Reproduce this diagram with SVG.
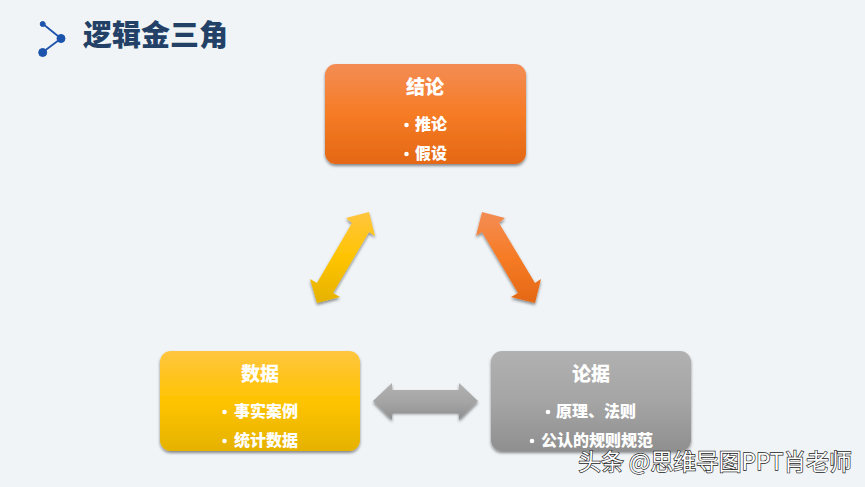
<svg xmlns="http://www.w3.org/2000/svg" width="865" height="487" viewBox="0 0 865 487">
<style>
text{font-family:"Noto Sans CJK SC","Liberation Sans",sans-serif;text-anchor:middle;fill:#fff}
.h{font-size:19px;font-weight:900}
.b{font-size:16px;font-weight:900}
.box{filter:url(#sh)}
</style>
<defs>
<filter id="sh" x="-10%" y="-10%" width="120%" height="120%"><feDropShadow dx="0" dy="2" stdDeviation="1.800" flood-color="#000" flood-opacity=".45"/></filter>
<linearGradient id="o" x1="0" y1="0" x2="0" y2="1"><stop offset="0" stop-color="#f38d55"/><stop offset=".5" stop-color="#f67b25"/><stop offset="1" stop-color="#e46815"/></linearGradient>
<linearGradient id="y" x1="0" y1="0" x2="0" y2="1"><stop offset="0" stop-color="#ffc53f"/><stop offset=".5" stop-color="#ffc400"/><stop offset="1" stop-color="#e5b200"/></linearGradient>
<linearGradient id="g" x1="0" y1="0" x2="0" y2="1"><stop offset="0" stop-color="#b1b1b1"/><stop offset=".5" stop-color="#a5a5a5"/><stop offset="1" stop-color="#8f8f8f"/></linearGradient>
</defs>
<rect width="865" height="487" fill="#f0f4f7"/>
<g id="icon" fill="#1c53ac" stroke="#1c53ac">
<path d="M43 24L61 38.500L43 52" fill="none" stroke-width="1.800"/>
<circle cx="42.700" cy="24" r="2.500"/><circle cx="61" cy="38.500" r="4"/><circle cx="42.700" cy="52.500" r="4"/>
</g>
<g id="title"><text x="155.500" y="46" style="font-size:29px;font-weight:900;fill:#234166">逻辑金三角</text></g>
<g id="connectors">
<polygon class="box" fill="url(#y)" points="369,212 375,236 369,232 333,293 340,297 317,303 310,279 317,283 352,223 346,218"/>
<polygon class="box" fill="url(#o)" points="482,212 505,218 499,223 535,283 541,279 535,303 511,297 518,293 482,232 476,236"/>
<polygon class="box" fill="url(#g)" points="373,401 392,383 392,390 459,390 459,383 478,401 459,420 459,412 392,412 392,420"/>
</g>
<g id="conclusion">
<rect class="box" x="325" y="64" width="201" height="100" rx="11" fill="url(#o)"/>
<text class="h" x="425" y="94">结论</text>
<circle cx="406.500" cy="125" r="2.300" fill="#fff"/><text class="b" x="431" y="130">推论</text>
<circle cx="406.500" cy="154" r="2.300" fill="#fff"/><text class="b" x="431" y="159">假设</text>
</g>
<g id="data">
<rect class="box" x="160" y="351" width="200" height="100" rx="11" fill="url(#y)"/>
<text class="h" x="260" y="381">数据</text>
<circle cx="224.500" cy="412" r="2.300" fill="#fff"/><text class="b" x="266" y="417">事实案例</text>
<circle cx="224.500" cy="441" r="2.300" fill="#fff"/><text class="b" x="266" y="446">统计数据</text>
</g>
<g id="argument">
<rect class="box" x="491" y="351" width="200" height="100" rx="11" fill="url(#g)"/>
<text class="h" x="591" y="381">论据</text>
<circle cx="548" cy="412" r="2.300" fill="#fff"/><text class="b" x="596" y="417">原理、法则</text>
<circle cx="532" cy="441" r="2.300" fill="#fff"/><text class="b" x="597" y="446">公认的规则规范</text>
</g>
<g id="watermark"><text x="715" y="469.500" style="font-size:22.800px;fill:#fff;stroke:#222;stroke-width:1.300px;paint-order:stroke">头条 @思维导图PPT肖老师</text></g>
</svg>
